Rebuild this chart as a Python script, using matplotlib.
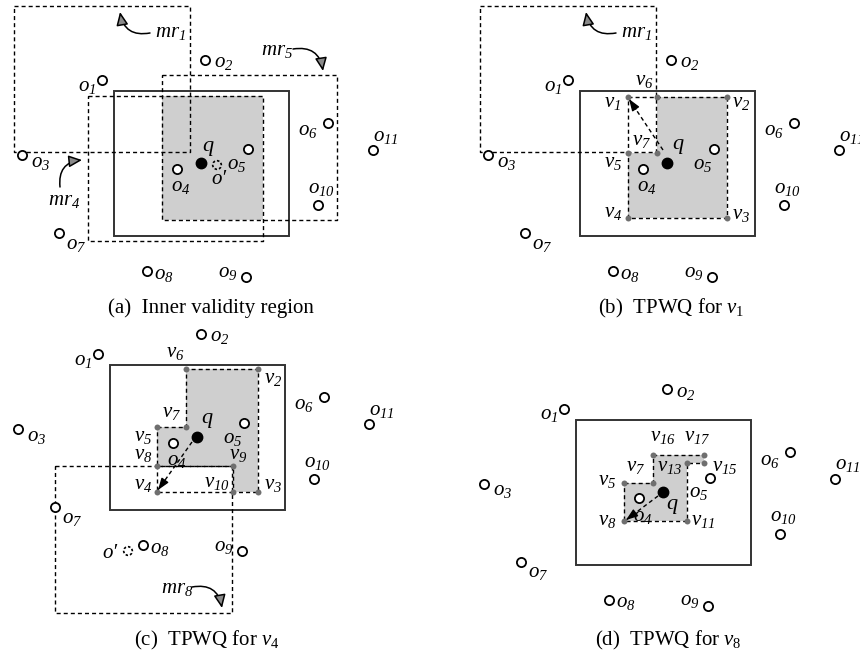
import matplotlib
matplotlib.use('Agg')
import matplotlib.pyplot as plt
from matplotlib.patches import Polygon, Rectangle, Circle, FancyArrowPatch

plt.rcParams.update({
    'font.family': 'Liberation Serif',
    'mathtext.fontset': 'custom',
    'mathtext.it': 'Liberation Serif:italic',
    'mathtext.rm': 'Liberation Serif:italic',
})

# data objects o1..o11, all in the pixel frame of panel (a)
OBJ_X = [102, 205, 22, 177, 248, 328, 59, 147, 246, 318, 373]
OBJ_Y = [80, 60, 155, 169, 149, 123, 233, 271, 277, 205, 150]
OBJ_LX = [87, 224, 41, 181, 237, 308, 76, 164, 228, 321, 386]
OBJ_LY = [86, 63, 162, 187, 164, 131, 244, 274, 272, 188, 136]
Q = (201, 163)

# panel offsets (copies of the same scene)
OFFSET = {'a': (0, 0), 'b': (466, 0), 'c': (-4, 274), 'd': (462, 329)}

# rectangles x0, y0, x1, y1
BOX = (114, 91, 289, 236)
MR1 = (14, 6, 190, 152)
MR4 = (88, 96, 263, 241)
MR5 = (162, 75, 337, 220)
MR8 = (59, 192, 236, 339)

# panel (b) vertices
B_NAMES = ['1', '6', '2', '7', '5', '4', '3']
B_VX = [162, 191, 261, 191, 162, 162, 261]
B_VY = [97, 97, 97, 153, 153, 218, 218]
B_LX = [147, 178, 275, 176, 147, 147, 275]
B_LY = [103, 80, 103, 140, 163, 213, 214]

# panel (c) vertices
C_NAMES = ['5', '7', '6', '2', '3', '10', '9', '8', '4']
C_VX = [161, 190, 190, 262, 262, 237, 237, 161, 161]
C_VY = [153, 153, 95, 95, 218, 218, 192, 192, 218]
C_LX = [147, 176, 179, 277, 277, 221, 242, 147, 147]
C_LY = [163, 138, 79, 104, 211, 209, 181, 181, 211]

# panel (d) vertices
D_NAMES = ['5', '7', '16', '17', '15', '13', '11', '8']
D_VX = [162, 191, 191, 242, 242, 225, 225, 162]
D_VY = [154, 154, 126, 126, 134, 134, 192, 192]
D_LX = [145, 174, 201, 235, 263, 208, 241, 145]
D_LY = [152, 137, 108, 108, 137, 138, 192, 192]

CAPTIONS = {
    'a': '(a)  Inner validity region',
    'b': r'(b)  TPWQ for $v_{\mathregular{1}}$',
    'c': r'(c)  TPWQ for $v_{\mathregular{4}}$',
    'd': r'(d)  TPWQ for $v_{\mathregular{8}}$',
}
CAPTION_XY = {'a': (211, 313), 'b': (671, 313), 'c': (207, 645), 'd': (668, 645)}
Q_LABEL = {'a': (208, 146), 'b': (212, 145), 'c': (211, 145), 'd': (210, 176)}

DASH = (0, (2.9, 2.2))
GRAY = '#cfcfcf'
FS = 15


def sub(base, idx):
    return r'$%s_{%s}$' % (base, idx)


def sh(p, key):
    dx, dy = OFFSET[key]
    return p[0] + dx, p[1] + dy


def dashed_rect(ax, r, key):
    x0, y0 = sh(r[:2], key)
    x1, y1 = sh(r[2:], key)
    ax.plot([x0, x1, x1, x0, x0], [y0, y0, y1, y1, y0], ls=DASH, lw=1.0, color='black', zorder=3)


def dashed_path(ax, xs, ys, key, closed=False):
    pts = [sh(p, key) for p in zip(xs, ys)]
    if closed:
        pts.append(pts[0])
    ax.plot([p[0] for p in pts], [p[1] for p in pts], ls=DASH, lw=1.0, color='black', zorder=3)


def gray_poly(ax, xs, ys, key):
    pts = [sh(p, key) for p in zip(xs, ys)]
    ax.add_patch(Polygon(pts, closed=True, facecolor=GRAY, edgecolor='none', zorder=1))


def curved_arrow(ax, a, b, key, rad=-0.5):
    ax.add_patch(FancyArrowPatch(sh(a, key), sh(b, key), connectionstyle=f'arc3,rad={rad}',
                                 arrowstyle='-|>,head_length=8,head_width=3.6', lw=1.1,
                                 edgecolor='black', facecolor='#8a8a8a', zorder=4,
                                 shrinkA=0, shrinkB=0))


def dashed_arrow(ax, a, b, key):
    (x0, y0), (x1, y1) = sh(a, key), sh(b, key)
    ax.plot([x0, x1], [y0, y1], ls=DASH, lw=1.0, color='black', zorder=4)
    ax.annotate('', xy=(x1, y1), xytext=(x1 + (x0 - x1) * 0.2, y1 + (y0 - y1) * 0.2),
                arrowprops=dict(arrowstyle='-|>,head_length=0.7,head_width=0.25', lw=1.0,
                                color='black', shrinkA=0, shrinkB=0), zorder=4)


def vertices(ax, xs, ys, names, lxs, lys, key):
    pts = [sh(p, key) for p in zip(xs, ys)]
    ax.plot([p[0] for p in pts], [p[1] for p in pts], 'o', ms=4.3, color='#6f6f6f', mec='none', zorder=5)
    for n, lx, ly in zip(names, lxs, lys):
        x, y = sh((lx, ly), key)
        ax.text(x, y, sub('v', n), fontsize=FS, ha='center', va='center', zorder=7)


def scene(ax, key):
    x0, y0 = sh(BOX[:2], key)
    x1, y1 = sh(BOX[2:], key)
    ax.add_patch(Rectangle((x0, y0), x1 - x0, y1 - y0, fill=False, lw=1.4, edgecolor='#333333', zorder=2))
    xs = [x + OFFSET[key][0] for x in OBJ_X]
    ys = [y + OFFSET[key][1] for y in OBJ_Y]
    ax.plot(xs, ys, 'o', ms=6.6, mfc='white', mec='black', mew=1.3, zorder=6)
    for i, (lx, ly) in enumerate(zip(OBJ_LX, OBJ_LY)):
        x, y = sh((lx, ly), key)
        ax.text(x, y, sub('o', i + 1), fontsize=FS, ha='center', va='center', zorder=7)
    qx, qy = sh(Q, key)
    ax.plot(qx, qy, 'o', ms=7.5, color='black', zorder=6)
    lx, ly = Q_LABEL[key]
    ax.text(lx + OFFSET[key][0], ly + OFFSET[key][1], 'q', fontsize=FS + 1, style='italic',
            ha='center', va='center', zorder=7)
    cx, cy = CAPTION_XY[key]
    ax.text(cx, cy, CAPTIONS[key], fontsize=15, ha='center', va='baseline')


def o_prime(ax, c, lab, key):
    x, y = sh(c, key)
    ax.add_patch(Circle((x, y), 4.3, fill=False, ls=(0, (1.5, 1.2)), lw=1.2, edgecolor='black', zorder=6))
    lx, ly = sh(lab, key)
    ax.text(lx, ly, 'o\u2032', fontsize=FS, style='italic', ha='center', va='center', zorder=7)


fig = plt.figure(figsize=(8.6, 6.52), dpi=100)
ax = fig.add_axes([0, 0, 1, 1])
ax.set_xlim(0, 860)
ax.set_ylim(652, 0)
ax.axis('off')

# (a) inner validity region = mr4 and mr5 overlap
k = 'a'
gx0, gy0 = max(MR4[0], MR5[0]), max(MR4[1], MR5[1])
gx1, gy1 = min(MR4[2], MR5[2]), min(MR4[3], MR5[3])
gray_poly(ax, [gx0, gx1, gx1, gx0], [gy0, gy0, gy1, gy1], k)
for r in (MR1, MR4, MR5):
    dashed_rect(ax, r, k)
scene(ax, k)
o_prime(ax, (217, 165), (219, 179), k)
curved_arrow(ax, (150, 33), (120, 12), k)
curved_arrow(ax, (293, 49), (323, 71), k)
curved_arrow(ax, (60, 187), (82, 160), k)
for txt, (x, y) in [(sub('mr', 1), (170, 32)), (sub('mr', 5), (277, 51)), (sub('mr', 4), (64, 201))]:
    ax.text(x, y, txt, fontsize=FS, ha='center', va='center', zorder=7)

# (b) TPWQ for v1
k = 'b'
poly = [4, 3, 1, 2, 6, 5]
gray_poly(ax, [B_VX[i] for i in poly], [B_VY[i] for i in poly], k)
dashed_rect(ax, MR1, k)
dashed_path(ax, [B_VX[i] for i in (0, 2, 6, 5)], [B_VY[i] for i in (0, 2, 6, 5)], k, closed=True)
scene(ax, k)
vertices(ax, B_VX, B_VY, B_NAMES, B_LX, B_LY, k)
dashed_arrow(ax, (197, 150), (163, 99), k)
curved_arrow(ax, (150, 33), (120, 12), k)
ax.text(170 + OFFSET[k][0], 32, sub('mr', 1), fontsize=FS, ha='center', va='center', zorder=7)

# (c) TPWQ for v4
k = 'c'
gray_poly(ax, C_VX[:8], C_VY[:8], k)
dashed_path(ax, C_VX[:8], C_VY[:8], k, closed=True)
dashed_path(ax, [C_VX[5], C_VX[8], C_VX[7]], [C_VY[5], C_VY[8], C_VY[7]], k)
dashed_rect(ax, MR8, k)
scene(ax, k)
vertices(ax, C_VX, C_VY, C_NAMES, C_LX, C_LY, k)
dashed_arrow(ax, (196, 168), (162, 216), k)
o_prime(ax, (132, 277), (114, 279), k)
curved_arrow(ax, (196, 313), (226, 334), k)
x, y = sh((181, 314), k)
ax.text(x, y, sub('mr', 8), fontsize=FS, ha='center', va='center', zorder=7)

# (d) TPWQ for v8
k = 'd'
gray_poly(ax, D_VX, D_VY, k)
dashed_path(ax, D_VX, D_VY, k, closed=True)
scene(ax, k)
vertices(ax, D_VX, D_VY, D_NAMES, D_LX, D_LY, k)
dashed_arrow(ax, (196, 167), (164, 191), k)

fig.savefig('out.png', dpi=100)
